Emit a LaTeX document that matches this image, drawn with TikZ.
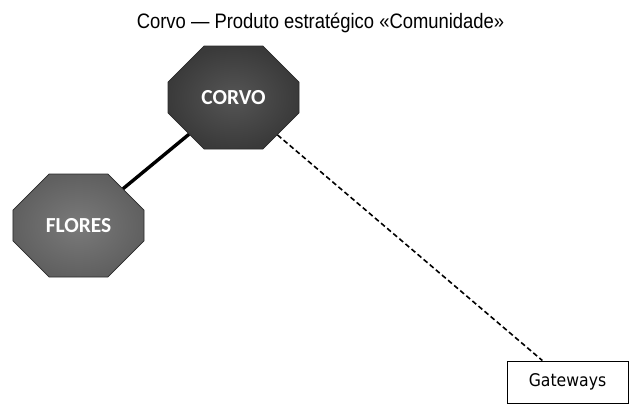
\documentclass[tikz,border=0pt]{standalone}
\usepackage{fontspec}
\usepackage{tikz}
\usetikzlibrary{shapes.misc}
\usepackage{xcolor}
\newfontfamily\titlefont{Liberation Sans}[FakeStretch=0.88]
\newfontfamily\octofont{Carlito}
\newfontfamily\boxfont{DejaVu Sans Condensed}
\definecolor{darkoct}{HTML}{3A3A3A}
\definecolor{darkoctin}{HTML}{555555}
\definecolor{lightoct}{HTML}{606060}
\definecolor{lightoctin}{HTML}{7A7A7A}
\definecolor{octline}{HTML}{2A2A2A}

\begin{document}
\begin{tikzpicture}[x=1bp,y=-1bp,
		octo/.style={chamfered rectangle,chamfered rectangle xsep=30bp,chamfered rectangle ysep=29bp,
			minimum width=131bp,minimum height=103bp,inner sep=0pt,draw=octline,line width=0.8bp,
			text=white,font=\octofont\bfseries\fontsize{21.5}{23}\selectfont},
		gatebox/.style={draw,line width=0.9bp,minimum width=121bp,minimum height=42bp,inner sep=0pt,
			font=\boxfont\fontsize{17.5}{19}\selectfont}]
			\useasboundingbox (0,0) rectangle (633,405);
			\node[font=\titlefont\fontsize{21}{23}\selectfont,anchor=base] (title) at (320.5,28) {Corvo — Produto estratégico «Comunidade»};
			\node[octo,inner color=darkoctin,outer color=darkoct] (corvo) at (233.5,97.5) {CORVO};
			\node[octo,inner color=lightoctin,outer color=lightoct] (flores) at (78.5,225.5) {FLORES};
			\node[gatebox] (gateways) at (567.5,382) {Gateways};
			\draw[line width=3.4bp] (corvo) -- (flores);
			\draw[line width=1.6bp,dash pattern=on 5bp off 3bp] (corvo) -- (gateways);
		\end{tikzpicture}
\end{document}
